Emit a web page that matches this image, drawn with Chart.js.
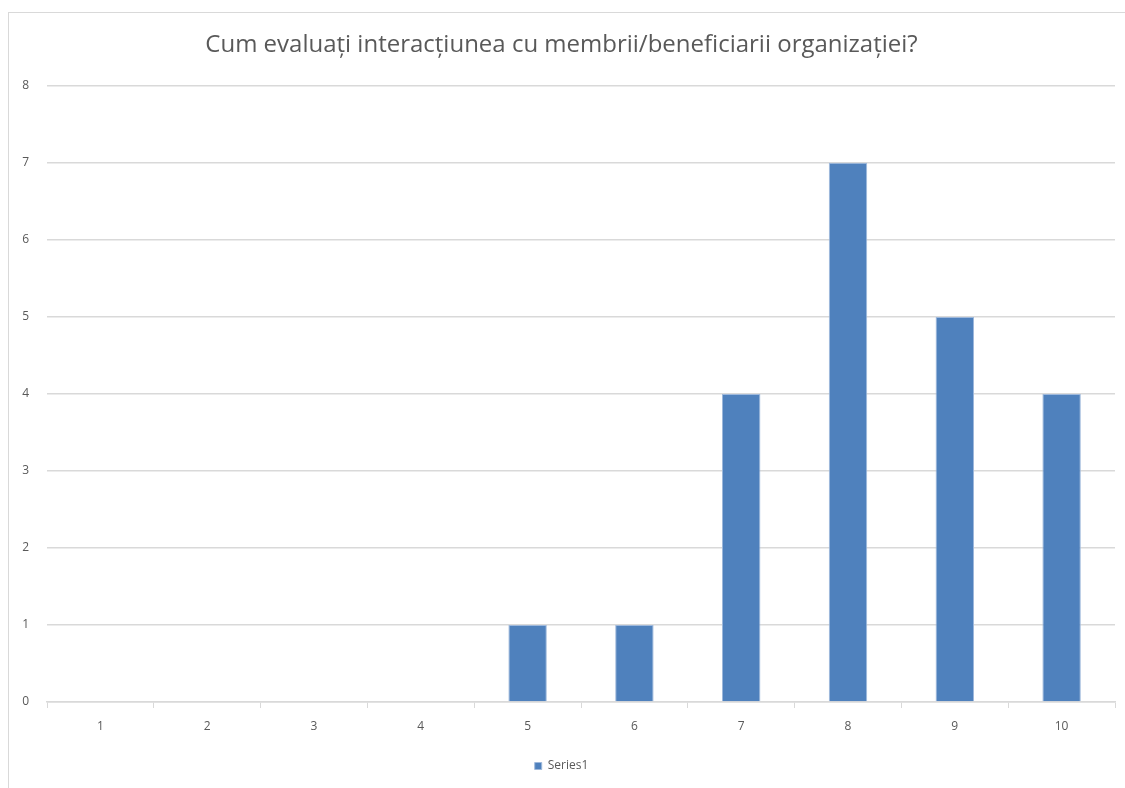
<!DOCTYPE html>
<html>
<head>
<meta charset="utf-8">
<script src="https://cdn.jsdelivr.net/npm/chart.js@4/dist/chart.umd.min.js"></script>
<style>
  html, body { margin: 0; padding: 0; background: #fff; }
  #frame { position: absolute; left: 8px; top: 12px; width: 1130px; height: 790px; border: 1px solid #d9d9d9; box-sizing: border-box; }
  #chart { position: absolute; left: 0; top: 0; }
</style>
</head>
<body>
<div id="frame"></div>
<canvas id="chart" width="1125" height="788"></canvas>
<script>
const titleText = 'Cum evaluați interacțiunea cu membrii/beneficiarii organizației?';
const categories = ['1', '2', '3', '4', '5', '6', '7', '8', '9', '10'];
const series1 = [0, 0, 0, 0, 1, 1, 4, 7, 5, 4];
const yTicks = [0, 1, 2, 3, 4, 5, 6, 7, 8];

const textColor = '#595959';
const gridColor = '#d9d9d9';
const fontFamily = "'Open Sans', 'Noto Sans', sans-serif";

const ctx = document.getElementById('chart');
const myChart = new Chart(ctx, {
    type: 'bar',
    data: {
        labels: categories,
        datasets: [{
            label: 'Series1',
            data: series1,
            backgroundColor: '#4f81bd',
            borderColor: '#9fb9dc',
            borderWidth: 1,
            barPercentage: 0.36,
            categoryPercentage: 1
        }]
    },
    options: {
        responsive: false,
        animation: false,
        layout: { padding: { left: 8, right: 10, top: 0, bottom: 6 } },
        plugins: {
            title: {
                display: true,
                text: titleText,
                color: textColor,
                font: { family: fontFamily, size: 24, weight: 'normal' },
                padding: { top: 31, bottom: 26 }
            },
            legend: {
                position: 'bottom',
                labels: {
                    color: textColor,
                    font: { family: fontFamily, size: 12 },
                    boxWidth: 7,
                    boxHeight: 7,
                    padding: 10
                }
            },
            tooltip: { enabled: false }
        },
        scales: {
            x: {
                grid: {
                    display: true,
                    drawOnChartArea: false,
                    drawTicks: true,
                    tickLength: 6,
                    color: gridColor,
                    offset: true
                },
                border: { color: gridColor, width: 1.5 },
                ticks: {
                    color: textColor,
                    font: { family: fontFamily, size: 12 },
                    padding: 11
                },
                afterFit: function (scale) { scale.height = 48; }
            },
            y: {
                min: 0,
                max: 8,
                afterBuildTicks: function (scale) {
                    scale.ticks = yTicks.map(function (v) { return { value: v }; });
                },
                grid: {
                    color: gridColor,
                    lineWidth: 1.5,
                    drawTicks: false
                },
                border: { display: false },
                ticks: {
                    color: textColor,
                    font: { family: fontFamily, size: 12 },
                    padding: 18
                },
                afterFit: function (scale) { scale.width = 39; }
            }
        }
    }
});
</script>
</body>
</html>
